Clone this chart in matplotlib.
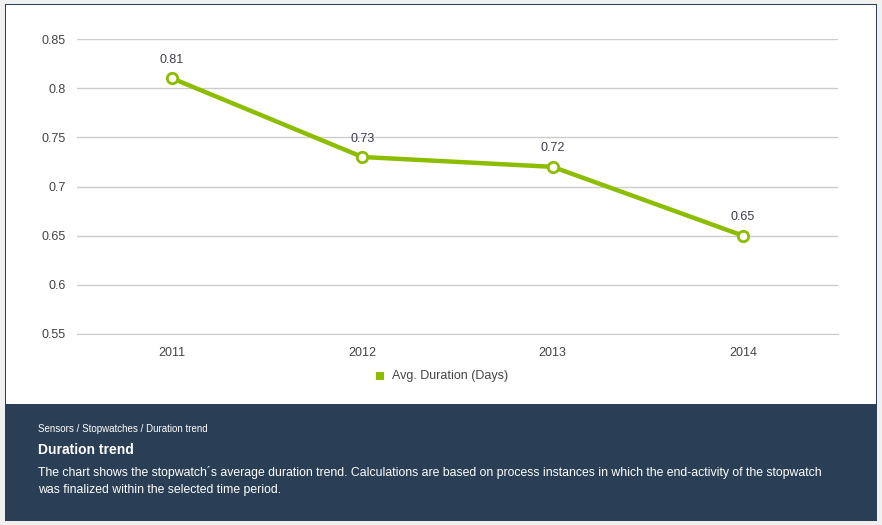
import matplotlib
matplotlib.use("Agg")
import matplotlib.pyplot as plt
from matplotlib.patches import Rectangle

years = ["2011", "2012", "2013", "2014"]
avg_duration = [0.81, 0.73, 0.72, 0.65]
y_ticks = [0.55, 0.6, 0.65, 0.7, 0.75, 0.8, 0.85]
y_tick_labels = ["0.55", "0.6", "0.65", "0.7", "0.75", "0.8", "0.85"]
series_name = "Avg. Duration (Days)"
breadcrumb = "Sensors / Stopwatches / Duration trend"
title = "Duration trend"
description = ("The chart shows the stopwatch\u00b4s average duration trend. Calculations are based on process instances in which the end-activity of the stopwatch\n"
               "was finalized within the selected time period.")

plt.rcParams['font.family'] = ['Liberation Sans', 'DejaVu Sans']

W, H = 882, 525
fig = plt.figure(figsize=(W / 100, H / 100), dpi=100)
fig.patch.set_facecolor("#f0f0f0")

GREEN = "#8cbd00"
NAVY = "#2a3f55"

# outer frame / panels
fig.patches.append(Rectangle((5 / W, 1 - 521 / H), 872 / W, 517 / H, transform=fig.transFigure,
                             facecolor=NAVY, edgecolor="none", zorder=-2))
fig.patches.append(Rectangle((6 / W, 1 - 404 / H), 870 / W, 399 / H, transform=fig.transFigure,
                             facecolor="white", edgecolor="none", zorder=-1))

ax = fig.add_axes([77 / W, 1 - 334 / H, 761 / W, 295 / H])
ax.set_facecolor("none")
x = list(range(len(years)))
ax.plot(x, avg_duration, color=GREEN, lw=3.2, marker="o", ms=7.5, mfc="white", mec=GREEN, mew=2,
        zorder=3, clip_on=False, solid_capstyle="round")
for xi, v in zip(x, avg_duration):
    ax.annotate(f"{v:.2f}", (xi, v), xytext=(0, 9), textcoords="offset points", ha="center",
                va="bottom", fontsize=9, color="#3d3d4d")

ax.set_xlim(-0.5, len(years) - 0.5)
ax.set_ylim(0.55, 0.85)
ax.set_yticks(y_ticks)
ax.set_yticklabels(y_tick_labels)
ax.set_xticks(x)
ax.set_xticklabels(years)
ax.yaxis.grid(True, color="#cccccc", lw=1)
ax.set_axisbelow(True)
for s in ["top", "right", "left"]:
    ax.spines[s].set_visible(False)
ax.spines["bottom"].set_color("#cccccc")
ax.tick_params(axis="both", length=0, labelsize=9, colors="#444444")
ax.tick_params(axis="y", pad=8)
ax.tick_params(axis="x", pad=9)

# legend
fig.patches.append(Rectangle((376 / W, 1 - 380 / H), 8 / W, 8 / H, transform=fig.transFigure,
                             facecolor=GREEN, edgecolor="none", zorder=1))
fig.text(392 / W, 1 - 376 / H, series_name, fontsize=9, color="#444444", va="center", ha="left")

# footer text
fig.text(38 / W, 1 - 429 / H, breadcrumb, fontsize=7, color="white", va="center", ha="left")
fig.text(38 / W, 1 - 450 / H, title, fontsize=10, color="white", va="center", ha="left", fontweight="bold")
fig.text(38 / W, 1 - 481 / H, description, fontsize=8.8, color="white", va="center", ha="left",
         linespacing=1.65)

fig.savefig("out.png", dpi=100, facecolor=fig.get_facecolor())
